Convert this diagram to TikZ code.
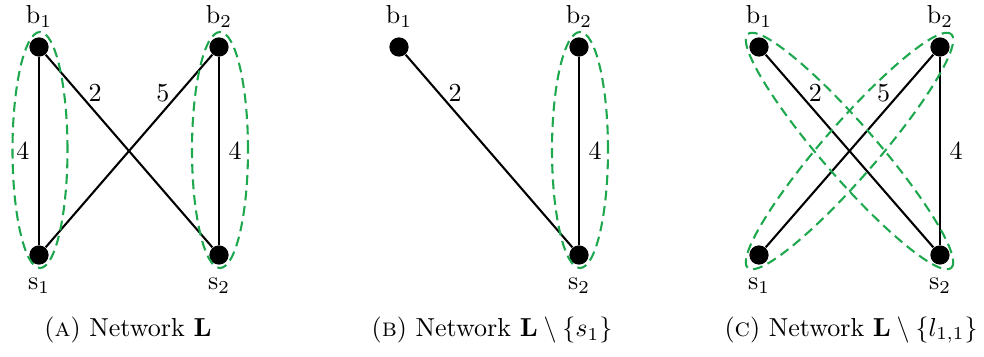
\documentclass[tikz,border=0pt]{standalone}
\usetikzlibrary{calc}
\definecolor{ellgreen}{RGB}{30,168,78}
\begin{document}
\begin{tikzpicture}[x=0.3843pt,y=0.3843pt,
  vtx/.style={circle,fill=black,inner sep=0pt,minimum size=7.4pt},
  edge/.style={line width=0.8pt},
  grp/.style={ellgreen,line width=0.8pt,dash pattern=on 3.8pt off 2.2pt},
  captxt/.style={inner sep=0pt},
  lowlab/.style={label={[label distance=1.5pt]below:#1}}]
\useasboundingbox (0,0) rectangle (984,356);
% ---------- Panel A
\node[vtx,label=above:b$_1$] (a1) at (39,309) {};
\node[vtx,label=above:b$_2$] (a2) at (219,309) {};
\node[vtx,lowlab=s$_1$] (a3) at (39,101) {};
\node[vtx,lowlab=s$_2$] (a4) at (219,101) {};
\draw[edge] (a1) -- node[left]{4} (a3);
\draw[edge] (a2) -- node[right]{4} (a4);
\draw[edge] (a1) -- node[pos=0.2,right]{2} (a4);
\draw[edge] (a3) -- node[pos=0.8,left]{5} (a2);
\draw[grp] (40,206) ellipse [x radius=27.5, y radius=118];
\draw[grp] (220,206) ellipse [x radius=28, y radius=118];
\node[captxt] (capA) at (128,26) {(\textsc{a}) Network $\mathbf{L}$};
% ---------- Panel B
\node[vtx,label=above:b$_1$] (b1) at (399,309) {};
\node[vtx,label=above:b$_2$] (b2) at (579,309) {};
\node[vtx,lowlab=s$_2$] (b4) at (579,101) {};
\draw[edge] (b2) -- node[right]{4} (b4);
\draw[edge] (b1) -- node[pos=0.2,right]{2} (b4);
\draw[grp] (580,206) ellipse [x radius=28, y radius=118];
\node[captxt] (capB) at (492,26) {(\textsc{b}) Network $\mathbf{L}\setminus\{s_1\}$};
% ---------- Panel C
\node[vtx,label=above:b$_1$] (c1) at (759,309) {};
\node[vtx,label=above:b$_2$] (c2) at (940,309) {};
\node[vtx,lowlab=s$_1$] (c3) at (759,101) {};
\node[vtx,lowlab=s$_2$] (c4) at (940,101) {};
\draw[edge] (c2) -- node[right]{4} (c4);
\draw[edge] (c1) -- node[pos=0.2,right]{2} (c4);
\draw[edge] (c3) -- node[pos=0.8,left]{5} (c2);
\draw[grp,rotate around={-49:(849.5,205)}] (849.5,205) ellipse [x radius=155, y radius=27];
\draw[grp,rotate around={49:(849.5,205)}] (849.5,205) ellipse [x radius=155, y radius=27];
\node[captxt] (capC) at (851,26) {(\textsc{c}) Network $\mathbf{L}\setminus\{l_{1,1}\}$};
\end{tikzpicture}
\end{document}
